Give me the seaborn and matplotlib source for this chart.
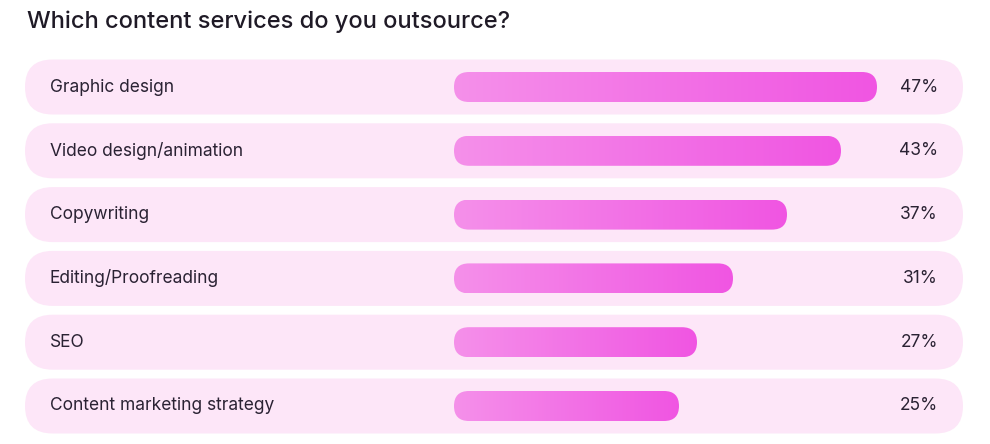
import matplotlib
matplotlib.use("Agg")
import matplotlib.pyplot as plt
import seaborn as sns
import numpy as np
import pandas as pd
from matplotlib.patches import FancyBboxPatch
from matplotlib.colors import LinearSegmentedColormap

categories = ["Graphic design", "Video design/animation", "Copywriting",
              "Editing/Proofreading", "SEO", "Content marketing strategy"]
values = [47, 43, 37, 31, 27, 25]
value_labels = ["47%", "43%", "37%", "31%", "27%", "25%"]

df = pd.DataFrame({"cat": categories, "val": values})
plt.rcParams["font.family"] = "Inter"

PX = 9.0      # px per percent
PY = 63.8     # px per row
X0 = 454      # px of 0%
Y0 = 87       # px of first row center

fig = plt.figure(figsize=(9.9, 4.44), dpi=100)
ax = fig.add_axes([0, 0, 1, 1])
ax.set_xlim(-X0 / PX, (990 - X0) / PX)
ax.set_ylim((444 - Y0) / PY, -Y0 / PY)
ax.axis("off")

bar_h = 30 / PY
sns.barplot(data=df, x="val", y="cat", orient="h", width=bar_h, ax=ax, color="#f060e0")
ax.set_xlim(-X0 / PX, (990 - X0) / PX)
ax.set_ylim((444 - Y0) / PY, -Y0 / PY)
ax.axis("off")

aspect = PX / PY
cmap = LinearSegmentedColormap.from_list("g", ["#f590ea", "#f055e2"])
grad = np.linspace(0, 1, 256).reshape(1, -1)

# background pills
for i in range(len(categories)):
    h = 55 / PY
    bg = FancyBboxPatch(((25 - X0) / PX, i - h / 2), (963 - 25) / PX, h,
                        boxstyle=f"round,pad=0,rounding_size={27.5 / PX}",
                        mutation_aspect=aspect, fc="#fde6f8", ec="none", zorder=0)
    ax.add_patch(bg)

for i, p in enumerate(ax.patches[:len(categories)]):
    x, y, w, h = p.get_x(), p.get_y(), p.get_width(), p.get_height()
    p.set_visible(False)
    clip = FancyBboxPatch((x, y), w, h,
                          boxstyle=f"round,pad=0,rounding_size={15 / PX}",
                          mutation_aspect=aspect, fc="none", ec="none")
    ax.add_patch(clip)
    im = ax.imshow(grad, cmap=cmap, aspect="auto", extent=(x, x + w, y + h, y),
                   zorder=2, interpolation="bicubic")
    im.set_clip_path(clip)

ax.set_xlim(-X0 / PX, (990 - X0) / PX)
ax.set_ylim((444 - Y0) / PY, -Y0 / PY)

for i, (c, lab) in enumerate(zip(categories, value_labels)):
    ax.text((50 - X0) / PX, i, c, va="center", ha="left", fontsize=12.5,
            color="#2a2233", zorder=3)
    ax.text((938 - X0) / PX, i, lab, va="center", ha="right", fontsize=12.5,
            color="#2a2233", zorder=3)

fig.text(27 / 990, 1 - 22 / 444, "Which content services do you outsource?",
         fontsize=17, fontweight="medium", color="#1f1a26", va="center", ha="left")

fig.savefig("out.png", dpi=100)
